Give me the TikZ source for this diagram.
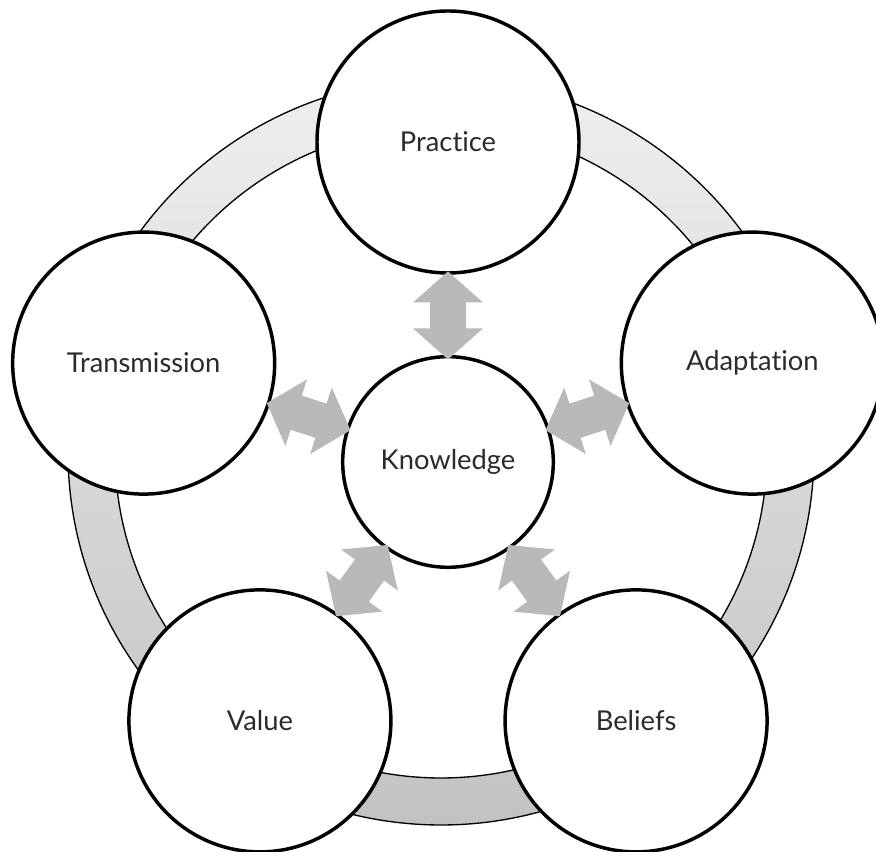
\documentclass[tikz,border=0pt]{standalone}
\usepackage{fontspec}
\setmainfont[Ligatures=NoCommon]{Lato}
\usetikzlibrary{calc}
\definecolor{ringtop}{HTML}{EFEFEF}
\definecolor{ringbot}{HTML}{C2C2C2}
\definecolor{linkgray}{HTML}{B9B9B9}
\definecolor{textgray}{HTML}{2B2B2B}

\begin{document}
\begin{tikzpicture}[x=0.75pt,y=0.75pt,font=\fontsize{20.5}{24}\selectfont,
  topic/.style={draw,circle,line width=2.6pt,fill=white,inner sep=0pt,
    minimum size=196.5pt,text=textgray},
  core/.style={topic,minimum size=158pt},
  link/.style={fill=linkgray}]

\useasboundingbox (0,0) rectangle (876,852);
\clip (0,0) rectangle (876,852);

% ring
\path[top color=ringtop,bottom color=ringbot,even odd rule,draw=black,line width=1pt]
  (441,400) circle (373) (441,400) circle (326);

% circles
\node[core] (know) at (448,390) {Knowledge};
\node[topic] (prac) at ($(know)+(90:320)$) {Practice};
\node[topic] (tran) at ($(know)+(162:320)$) {Transmission};
\node[topic] (valu) at ($(know)+(234:320)$) {Value};
\node[topic] (beli) at ($(know)+(306:320)$) {Beliefs};
\node[topic] (adap) at ($(know)+(18:320)$) {Adaptation};

% double arrows
\foreach \n/\a in {prac/90,tran/162,valu/234,beli/306,adap/18}
  \fill[link,shift={($(know)!0.458!(\n)$)},rotate=\a]
    (-44,0) -- (-13,35) -- (-13,18) -- (13,18) -- (13,35) -- (44,0)
    -- (13,-35) -- (13,-18) -- (-13,-18) -- (-13,-35) -- cycle;

\end{tikzpicture}
\end{document}
